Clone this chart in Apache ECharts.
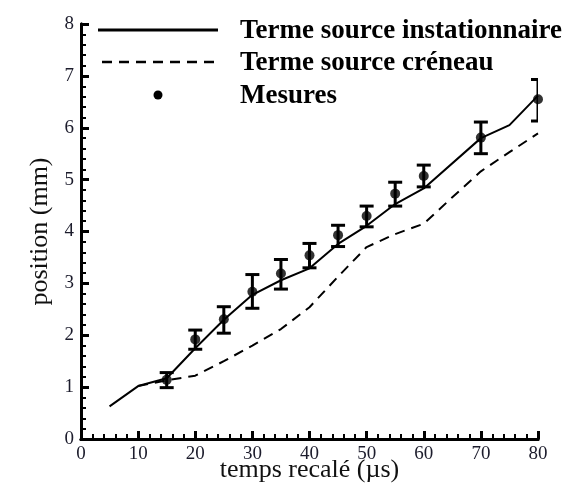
<!DOCTYPE html>
<html>

<head>
    <meta charset="utf-8">
    <script src="https://cdn.jsdelivr.net/npm/echarts@6/dist/echarts.min.js"></script>
</head>

<body style="margin:0;background:#fff;">
    <div id="main" style="width: 572px;height:493px;"></div>
    <script type="text/javascript">
        // courbes simulées
        var instatX = [5, 10, 15, 20, 25, 30, 35, 40, 45, 50, 55, 60, 70, 75, 80];
        var instatY = [0.63, 1.02, 1.17, 1.75, 2.3, 2.78, 3.06, 3.29, 3.76, 4.11, 4.53, 4.83, 5.8, 6.05, 6.62];
        var creneauX = [10, 15, 20, 25, 30, 35, 40, 45, 50, 55, 60, 65, 70, 75, 80];
        var creneauY = [1.02, 1.13, 1.22, 1.5, 1.8, 2.12, 2.54, 3.13, 3.7, 3.95, 4.15, 4.66, 5.16, 5.53, 5.89];

        // mesures + barres d'erreur
        var mesX = [15, 20, 25, 30, 35, 40, 45, 50, 55, 60, 70, 80];
        var mesY = [1.14, 1.92, 2.31, 2.84, 3.19, 3.54, 3.93, 4.3, 4.73, 5.07, 5.81, 6.55];
        var mesLow = [0.99, 1.73, 2.04, 2.52, 2.89, 3.3, 3.71, 4.09, 4.49, 4.86, 5.5, 6.13];
        var mesHigh = [1.28, 2.1, 2.55, 3.17, 3.46, 3.77, 4.12, 4.49, 4.95, 5.28, 6.11, 6.93];

        var names = ['Terme source instationnaire', 'Terme source créneau', 'Mesures'];
        var font = '"Liberation Serif", "DejaVu Serif", serif';

        function pairs(xs, ys) {
            return xs.map(function (x, i) { return [x, ys[i]]; });
        }

        var chart = echarts.init(document.getElementById('main'));

        var labelStyle = { color: '#1c1c2c', fontFamily: font, fontSize: 19 };
        var nameStyle = { color: '#111', fontFamily: font, fontSize: 26 };

        chart.setOption({
            animation: false,
            backgroundColor: '#fff',
            grid: { left: 81, right: 34, top: 24, bottom: 54, outerBoundsMode: 'none' },
            xAxis: [
                {
                    type: 'value', min: 0, max: 80, interval: 10,
                    name: 'temps recalé (µs)', nameLocation: 'middle', nameGap: 18,
                    nameMoveOverlap: false,
                    nameTextStyle: nameStyle,
                    axisLine: { lineStyle: { color: '#000', width: 3 } },
                    axisTick: { inside: true, length: 8, lineStyle: { color: '#000', width: 3 } },
                    axisLabel: Object.assign({ margin: 6 }, labelStyle),
                    splitLine: { show: false },
                    z: 5
                },
                // petites graduations
                {
                    type: 'value', min: 0, max: 80, interval: 2, position: 'bottom',
                    axisLine: { lineStyle: { color: '#000', width: 3 } },
                    axisTick: { show: true, inside: true, length: 5, lineStyle: { color: '#000', width: 2 } },
                    axisLabel: { show: false },
                    splitLine: { show: false }
                }
            ],
            yAxis: [
                {
                    type: 'value', min: 0, max: 8, interval: 1,
                    name: 'position (mm)', nameLocation: 'middle', nameGap: 27,
                    nameTextStyle: nameStyle,
                    axisLine: { lineStyle: { color: '#000', width: 3 } },
                    axisTick: { inside: true, length: 8, lineStyle: { color: '#000', width: 3 } },
                    axisLabel: Object.assign({ margin: 7 }, labelStyle),
                    splitLine: { show: false },
                    z: 5
                },
                {
                    type: 'value', min: 0, max: 8, interval: 0.2, position: 'left',
                    axisLine: { lineStyle: { color: '#000', width: 3 } },
                    axisTick: { show: true, inside: true, length: 5, lineStyle: { color: '#000', width: 2 } },
                    axisLabel: { show: false },
                    splitLine: { show: false }
                }
            ],
            series: [
                {
                    name: names[0],
                    type: 'line',
                    data: pairs(instatX, instatY),
                    symbol: 'none',
                    lineStyle: { color: '#000', width: 2 }
                },
                {
                    name: names[1],
                    type: 'line',
                    data: pairs(creneauX, creneauY),
                    symbol: 'none',
                    lineStyle: { color: '#000', width: 2, type: [10, 7] }
                },
                {
                    name: 'barres',
                    type: 'custom',
                    clip: true,
                    data: mesX.map(function (x, i) { return [x, mesLow[i], mesHigh[i]]; }),
                    renderItem: function (params, api) {
                        var lo = api.coord([api.value(0), api.value(1)]);
                        var hi = api.coord([api.value(0), api.value(2)]);
                        var w = 7;
                        var st = { stroke: '#000', lineWidth: 3 };
                        return {
                            type: 'group',
                            children: [
                                { type: 'line', shape: { x1: lo[0], y1: lo[1], x2: hi[0], y2: hi[1] }, style: st },
                                { type: 'line', shape: { x1: lo[0] - w, y1: lo[1], x2: lo[0] + w, y2: lo[1] }, style: st },
                                { type: 'line', shape: { x1: hi[0] - w, y1: hi[1], x2: hi[0] + w, y2: hi[1] }, style: st }
                            ]
                        };
                    },
                    z: 3
                },
                {
                    name: names[2],
                    type: 'scatter',
                    data: pairs(mesX, mesY),
                    symbol: 'circle',
                    symbolSize: 10,
                    itemStyle: { color: '#000' },
                    z: 4
                }
            ],
            graphic: [
                { type: 'line', shape: { x1: 98, y1: 30, x2: 218, y2: 30 }, style: { stroke: '#000', lineWidth: 3 } },
                { type: 'line', shape: { x1: 102, y1: 62, x2: 218, y2: 62 }, style: { stroke: '#000', lineWidth: 2.5, lineDash: [10, 7] } },
                { type: 'circle', shape: { cx: 158, cy: 95, r: 4.5 }, style: { fill: '#000' } },
                { type: 'text', x: 240, y: 31, style: { text: names[0], font: 'bold 27px ' + font, fill: '#000', verticalAlign: 'middle' } },
                { type: 'text', x: 240, y: 63, style: { text: names[1], font: 'bold 27px ' + font, fill: '#000', verticalAlign: 'middle' } },
                { type: 'text', x: 240, y: 96, style: { text: names[2], font: 'bold 27px ' + font, fill: '#000', verticalAlign: 'middle' } }
            ]
        });
    </script>
</body>

</html>
